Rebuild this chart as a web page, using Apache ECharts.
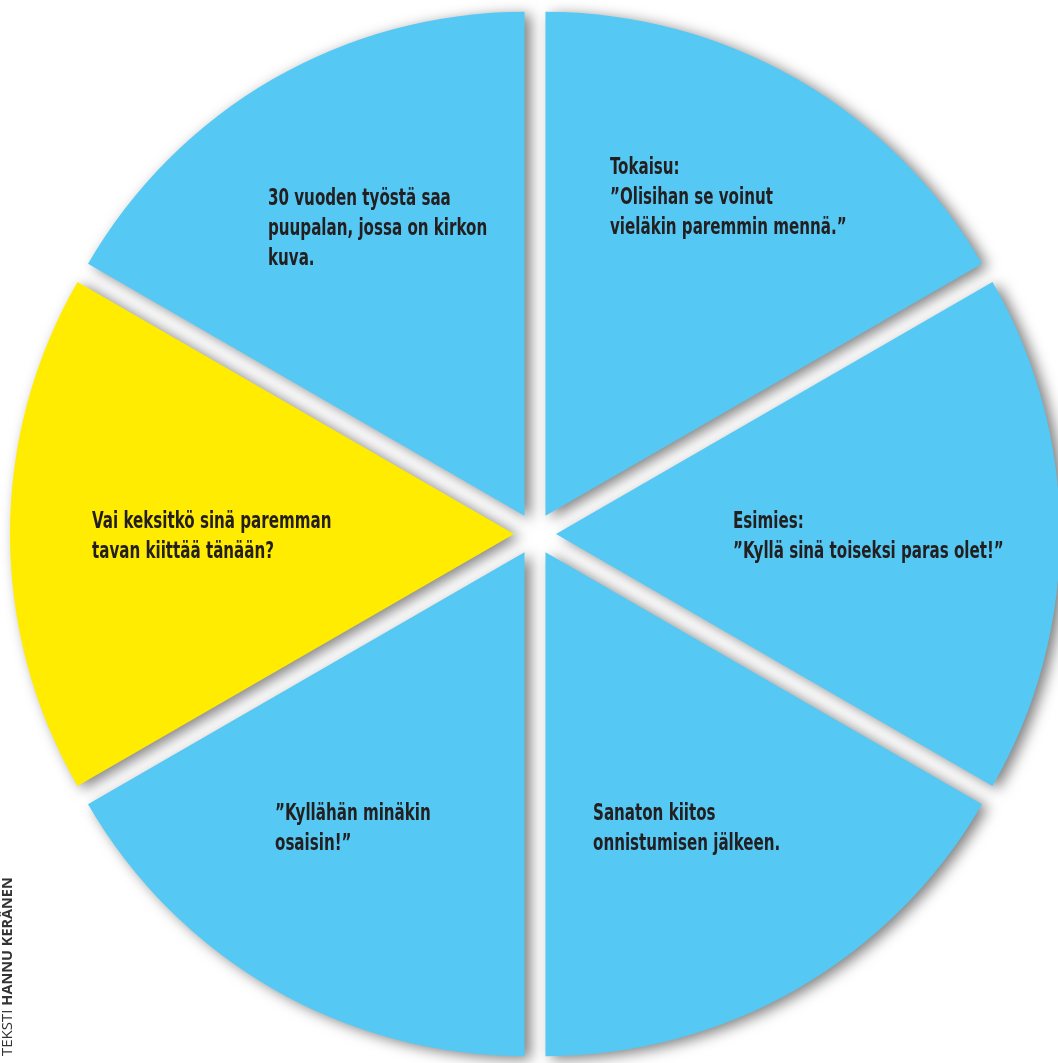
<!DOCTYPE html>
<html>
<head>
<meta charset="utf-8">
<script src="https://cdn.jsdelivr.net/npm/echarts@6/dist/echarts.min.js"></script>
<style>
html,body{margin:0;padding:0;background:#fff;}
#c{width:1058px;height:1063px;}
</style>
</head>
<body>
<div id="c"></div>
<script>
// Data: six equal slices, clockwise from 12 o'clock
const categories = [
  'Tokaisu:\n”Olisihan se voinut\nvieläkin paremmin mennä.”',
  'Esimies:\n”Kyllä sinä toiseksi paras olet!”',
  'Sanaton kiitos\nonnistumisen jälkeen.',
  '”Kyllähän minäkin\nosaisin!”',
  'Vai keksitkö sinä paremman\ntavan kiittää tänään?',
  '30 vuoden työstä saa\npuupalan, jossa on kirkon\nkuva.'
];
const values = [1, 1, 1, 1, 1, 1];
const sliceColors = ['#55c9f4', '#55c9f4', '#55c9f4', '#55c9f4', '#ffec00', '#55c9f4'];
const credit = ['TEKSTI ', 'HANNU KERÄNEN'];

// label anchor points (top-left of each text block), in pixels
const labelPos = [[610,153],[733,507],[593,799],[275,799],[92,507],[268,184]];

const chart = echarts.init(document.getElementById('c'), null, {renderer:'canvas'});
const FONT = '"DejaVu Sans Condensed","DejaVu Sans",sans-serif';

const labelGraphics = categories.map((t, i) => ({
  type: 'text',
  x: labelPos[i][0],
  y: labelPos[i][1],
  scaleX: 0.73,
  z: 100,
  style: {
    text: t,
    fill: '#231f20',
    font: 'bold 23px ' + FONT,
    lineHeight: 30,
    align: 'left',
    verticalAlign: 'top'
  }
}));

chart.setOption({
  animation: false,
  series: [{
    type: 'pie',
    center: [535, 534],
    radius: [0, 504],
    startAngle: 90,
    clockwise: true,
    selectedMode: 'multiple',
    selectedOffset: 21,
    emphasis: {disabled: true},
    silent: true,
    itemStyle: {
      borderWidth: 0,
      shadowBlur: 14,
      shadowColor: 'rgba(0,0,0,0.5)',
      shadowOffsetX: 6,
      shadowOffsetY: 3
    },
    label: {show: false},
    labelLine: {show: false},
    data: categories.map((n, i) => ({
      name: n,
      value: values[i],
      selected: true,
      itemStyle: {color: sliceColors[i]}
    }))
  }],
  graphic: labelGraphics.concat([{
    type: 'text',
    x: 8,
    y: 1056,
    rotation: Math.PI / 2,
    style: {
      text: '{a|' + credit[0] + '}{b|' + credit[1] + '}',
      verticalAlign: 'middle',
      align: 'left',
      rich: {
        a: {fontFamily: '"Open Sans",sans-serif', fontWeight: 'normal', fontSize: 15, fill: '#333'},
        b: {fontFamily: '"Open Sans",sans-serif', fontWeight: 'bold', fontSize: 14.5, fill: '#333'}
      }
    }
  }])
});
</script>
</body>
</html>
